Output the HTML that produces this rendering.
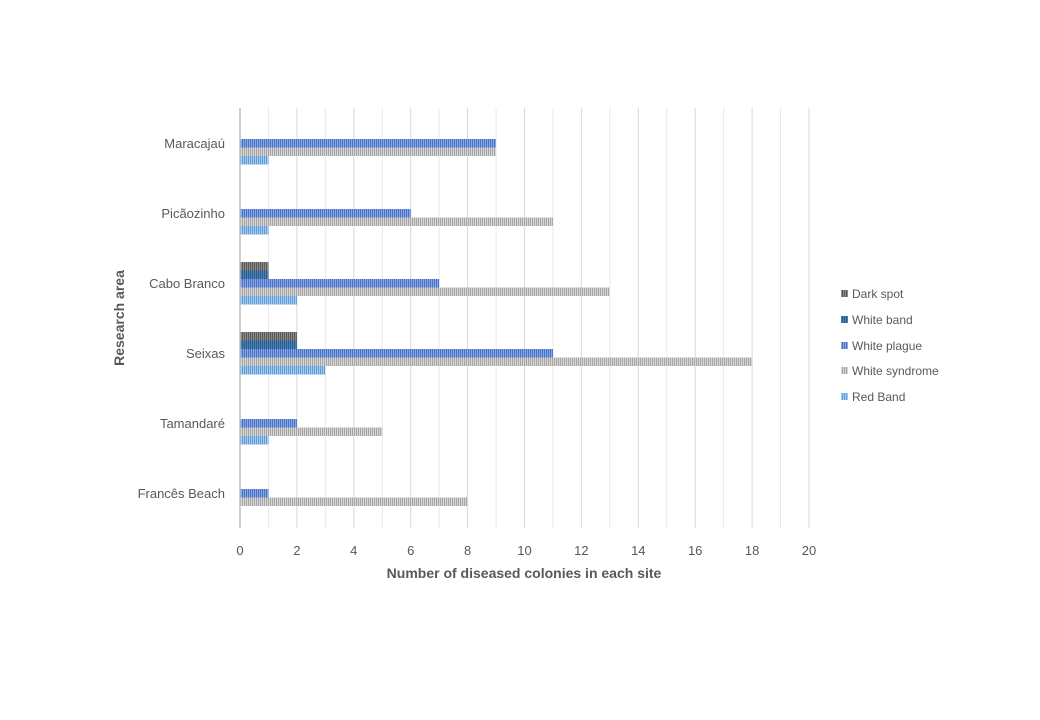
<!DOCTYPE html>
<html><head><meta charset="utf-8"><style>
html,body{margin:0;padding:0;background:#fff;}
svg{display:block;font-family:"Liberation Sans",sans-serif;}
</style></head><body>
<svg width="1040" height="720" viewBox="0 0 1040 720" xmlns="http://www.w3.org/2000/svg">
<defs>
<pattern id="pDark" width="2" height="4" patternUnits="userSpaceOnUse"><rect width="2" height="4" fill="#8a8a8a"/><rect width="1" height="4" fill="#5a5a5a"/></pattern>
<pattern id="pBand" width="2" height="4" patternUnits="userSpaceOnUse"><rect width="2" height="4" fill="#4a7fb0"/><rect width="1" height="4" fill="#2a5f90"/></pattern>
<pattern id="pPlague" width="2" height="4" patternUnits="userSpaceOnUse"><rect width="2" height="4" fill="#8aa6e4"/><rect width="1" height="4" fill="#4672c8"/></pattern>
<pattern id="pSyn" width="2" height="4" patternUnits="userSpaceOnUse"><rect width="2" height="4" fill="#d6d6d6"/><rect width="1" height="4" fill="#a6a6a6"/></pattern>
<pattern id="pRed" width="2" height="4" patternUnits="userSpaceOnUse"><rect width="2" height="4" fill="#a6cbee"/><rect width="1" height="4" fill="#5d9dd8"/></pattern>
</defs>
<g id="grid"></g>
<script>
(function(){
var NS="http://www.w3.org/2000/svg",g=document.getElementById('grid');
for(var i=1;i<=20;i++){var x=240+i*28.45;var l=document.createElementNS(NS,'line');
l.setAttribute('x1',x);l.setAttribute('x2',x);l.setAttribute('y1',108);l.setAttribute('y2',528);
l.setAttribute('stroke',i%2==0?'#d9d9d9':'#e9e9e9');l.setAttribute('stroke-width','1');g.appendChild(l);}
var data=[[143,[0,0,9,9,1]],[213,[0,0,6,11,1]],[283,[1,1,7,13,2]],[353,[2,2,11,18,3]],[423,[0,0,2,5,1]],[493,[0,0,1,8,0]]];
var off=[-21,-12.5,-4,4.5,13],f=['pDark','pBand','pPlague','pSyn','pRed'];
data.forEach(function(d){d[1].forEach(function(v,k){if(!v)return;var r=document.createElementNS(NS,'rect');
r.setAttribute('x',240);r.setAttribute('y',d[0]+off[k]);r.setAttribute('width',v*28.45);r.setAttribute('height',8.5);
r.setAttribute('fill','url(#'+f[k]+')');g.appendChild(r);});});
})();
</script>
<line x1="240" y1="108" x2="240" y2="528" stroke="#bfbfbf" stroke-width="1.5"/>
<g font-size="13" fill="#595959" text-anchor="end">
<text x="225" y="148">Maracajaú</text>
<text x="225" y="218">Picãozinho</text>
<text x="225" y="288">Cabo Branco</text>
<text x="225" y="358">Seixas</text>
<text x="225" y="428">Tamandaré</text>
<text x="225" y="498">Francês Beach</text>
</g>
<g font-size="13" fill="#595959" text-anchor="middle">
<text x="240" y="555">0</text><text x="296.9" y="555">2</text><text x="353.8" y="555">4</text>
<text x="410.7" y="555">6</text><text x="467.6" y="555">8</text><text x="524.5" y="555">10</text>
<text x="581.4" y="555">12</text><text x="638.3" y="555">14</text><text x="695.2" y="555">16</text>
<text x="752.1" y="555">18</text><text x="809" y="555">20</text>
</g>
<text x="524" y="578" font-size="14" font-weight="bold" fill="#595959" text-anchor="middle">Number of diseased colonies in each site</text>
<text transform="translate(124,318) rotate(-90)" font-size="14" font-weight="bold" fill="#595959" text-anchor="middle">Research area</text>
<g font-size="12" fill="#595959">
<rect x="841" y="290" width="7" height="7" fill="url(#pDark)"/><text x="852" y="298">Dark spot</text>
<rect x="841" y="316" width="7" height="7" fill="url(#pBand)"/><text x="852" y="324">White band</text>
<rect x="841" y="342" width="7" height="7" fill="url(#pPlague)"/><text x="852" y="350">White plague</text>
<rect x="841" y="367" width="7" height="7" fill="url(#pSyn)"/><text x="852" y="375">White syndrome</text>
<rect x="841" y="393" width="7" height="7" fill="url(#pRed)"/><text x="852" y="401">Red Band</text>
</g>
</svg>
</body></html>
